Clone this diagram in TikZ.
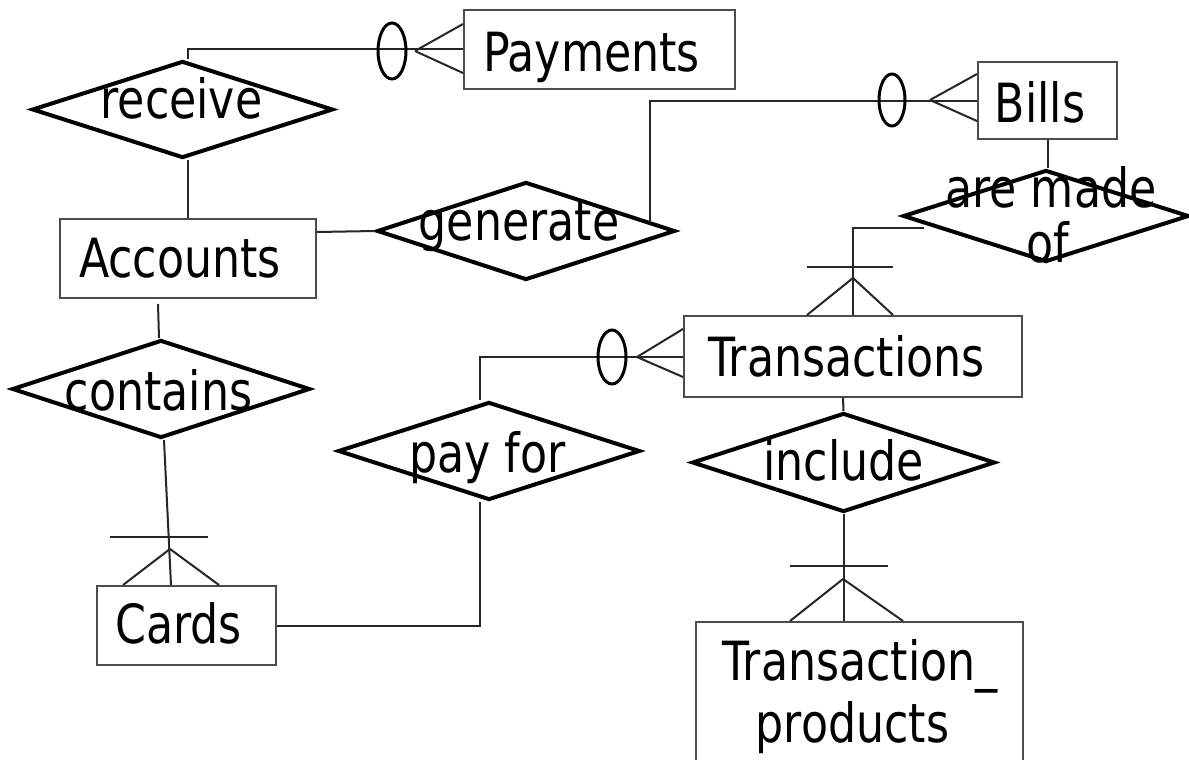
\documentclass[tikz,border=0pt]{standalone}
\usepackage{fontspec}
\setmainfont{DejaVu Sans}[FakeStretch=0.82]
\usetikzlibrary{shapes.geometric,calc}
\begin{document}
\begin{tikzpicture}[x=1pt,y=-1pt,
  ent/.style n args={2}{draw=black!70,line width=2pt,inner sep=0pt,minimum width=#1,minimum height=#2},
  rel/.style n args={2}{diamond,draw=black,line width=4pt,inner sep=0pt,minimum width=#1,minimum height=#2},
  lbl/.style={anchor=base,inner sep=0pt,font=\fontsize{54}{60}\selectfont},
  conn/.style={draw=black!85,line width=2pt},
  zero/.style={draw=black,line width=3pt},
  foot/.style={draw=black!85,line width=2pt}]
\clip (0,0) rectangle (1189,760);
\fill[white] (0,0) rectangle (1189,760);

% entities
\node[ent={271pt}{79pt}] (payments) at (599.5,49.5) {};
\node[ent={139pt}{77pt}] (bills) at (1047.5,100.5) {};
\node[ent={256pt}{79pt}] (accounts) at (188,258.5) {};
\node[ent={338pt}{81pt}] (trans) at (853,356.5) {};
\node[ent={179pt}{79pt}] (cards) at (186.5,625.5) {};
\node[ent={327pt}{178pt}] (tp) at (859.5,711) {};

% relationships
\node[rel={301pt}{97pt}] (receive) at (182.5,109.5) {};
\node[rel={298pt}{98pt}] (generate) at (526,231) {};
\node[rel={286pt}{92pt}] (amo) at (1046,216) {};
\node[rel={298pt}{98pt}] (contains) at (161,389) {};
\node[rel={302pt}{98pt}] (payfor) at (489,451) {};
\node[rel={303pt}{99pt}] (include) at (843.5,462.5) {};

% labels
\node[lbl] (lpay) at (591.5,72) {Payments};
\node[lbl] (lbills) at (1040,122) {Bills};
\node[lbl] (lacc) at (180,277) {Accounts};
\node[lbl] (ltrans) at (846.5,376) {Transactions};
\node[lbl] (lcards) at (178.5,643) {Cards};
\node[lbl] (ltp1) at (860,680) {Transaction\_};
\node[lbl] (ltp2) at (852.5,742) {products};
\node[lbl] (lrec) at (181.5,118) {receive};
\node[lbl] (lgen) at (519,240) {generate};
\node[lbl] (lamo1) at (1051,207) {are made};
\node[lbl] (lamo2) at (1048,262) {of};
\node[lbl] (lcont) at (158.5,410) {contains};
\node[lbl] (lpf) at (487.5,472) {pay for};
\node[lbl] (linc) at (843.5,480) {include};

% receive -- Payments (zero or many)
\draw[conn] ([xshift=5pt]receive.north) |- (payments.west);
\coordinate (o1) at (392,51);
\draw[zero] (o1) ellipse [x radius=14, y radius=28];
\coordinate (a1) at (415,51);
\draw[foot] (a1) -- (payments.west |- 0,24);
\draw[foot] (a1) -- (payments.west |- 0,73);

% Accounts -- receive
\draw[conn] (receive.south -| 188,0) -- (accounts.north -| 188,0);

% Accounts -- generate
\draw[conn] ([yshift=26.5pt]accounts.east) -- (generate.west);

% generate -- Bills (zero or many)
\draw[conn] ($(generate.north)!0.82!(generate.east)$) |- (bills.west);
\coordinate (o2) at (892,100);
\draw[zero] (o2) ellipse [x radius=13, y radius=26];
\coordinate (a2) at (930,100);
\draw[foot] (a2) -- (bills.west |- 0,74);
\draw[foot] (a2) -- (bills.west |- 0,121);

% Bills -- are made of
\draw[conn] (bills.south) -- (bills.south |- amo.north);

% are made of -- Transactions (one or many)
\coordinate (c3) at (924,228);
\draw[conn] (c3) -| (trans.north);
\coordinate (a3) at (853,278);
\draw[foot] (807,267) -- (893,267);
\draw[foot] (a3) -- (trans.north -| 807,0);
\draw[foot] (a3) -- (trans.north -| 893,0);

% Accounts -- contains
\draw[conn] (158,304) -- ([xshift=-2pt]contains.north);

% contains -- Cards (one or many)
\draw[conn] ([xshift=3pt]contains.south) -- ([xshift=-15.5pt]cards.north);
\coordinate (a4) at (170,549);
\draw[foot] (110,537) -- (208,537);
\draw[foot] (a4) -- (cards.north -| 123,0);
\draw[foot] (a4) -- (cards.north -| 219,0);

% pay for -- Transactions (zero or many)
\draw[conn] ([xshift=-9pt]payfor.north) |- (trans.west);
\coordinate (o5) at (612,357);
\draw[zero] (o5) ellipse [x radius=14, y radius=27];
\coordinate (a5) at (637,357);
\draw[foot] (a5) -- (trans.west |- 0,329);
\draw[foot] (a5) -- (trans.west |- 0,377);

% pay for -- Cards
\draw[conn] ([xshift=-9pt]payfor.south) |- (cards.east);

% Transactions -- include
\draw[conn] ([xshift=-10pt]trans.south) -- (include.north);

% include -- Transaction_products (one or many)
\draw[conn] (include.south) -- (tp.north -| include.south);
\coordinate (a6) at (843,579);
\draw[foot] (790,566) -- (888,566);
\draw[foot] (a6) -- (tp.north -| 790,0);
\draw[foot] (a6) -- (tp.north -| 903,0);
\end{tikzpicture}
\end{document}
